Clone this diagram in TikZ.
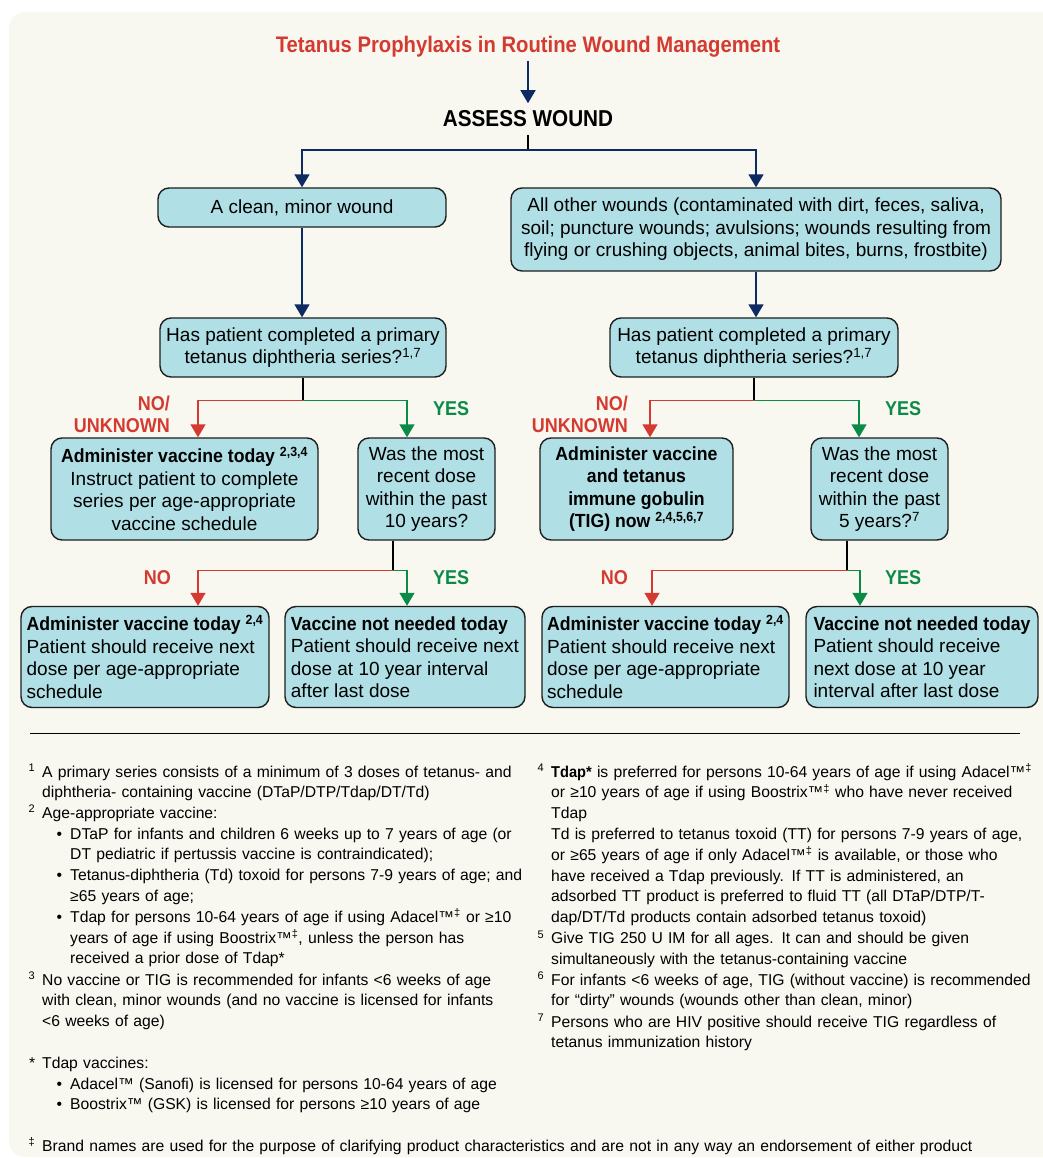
\documentclass[tikz,border=0pt]{standalone}
\usepackage{fontspec}
\setmainfont{Liberation Sans}[BoldFeatures={FakeStretch=0.93}]
\newfontfamily\headfont{Liberation Sans}[FakeStretch=0.9]
\usetikzlibrary{arrows.meta}

\definecolor{pagebg}{HTML}{F8F7F0}
\definecolor{boxfill}{HTML}{B0DFE5}
\definecolor{boxline}{HTML}{1E1E1E}
\definecolor{tetnavy}{HTML}{0D2B62}
\definecolor{noRed}{HTML}{D43A30}
\definecolor{yesGreen}{HTML}{0C8A47}

\newcommand{\bulletmark}{\leavevmode\llap{•\hspace{8pt}}}
\newcommand{\notemark}[1]{\leavevmode\llap{#1\hspace{7pt}}}

\begin{document}
\begin{tikzpicture}[x=1pt, y=-1pt,
    box/.style={draw=boxline, fill=boxfill, line width=1.4pt, rounded corners=11pt, inner sep=4pt, align=center, font=\fontsize{19}{22.5}\selectfont},
    leftbox/.style={box, align=left},
    flowline/.style={draw=tetnavy, line width=1.6pt, -{Triangle[width=15pt,length=13pt]}},
    stemline/.style={draw=black, line width=1.2pt},
    noline/.style={draw=noRed, line width=1.4pt, -{Triangle[width=15pt,length=13pt]}},
    yesline/.style={draw=yesGreen, line width=1.4pt, -{Triangle[width=15pt,length=13pt]}},
    nolabel/.style={text=noRed, inner sep=0pt, font=\headfont\bfseries\fontsize{20}{22}\selectfont},
    yeslabel/.style={text=yesGreen, inner sep=0pt, font=\headfont\bfseries\fontsize{20}{22}\selectfont},
    note/.style={anchor=base west, align=left, inner sep=0pt, text width=490pt, font=\fontsize{15.7}{20.8}\selectfont}]

    \useasboundingbox (0,0) rectangle (1043,1158);
    \fill[pagebg, rounded corners=16] (9,12) rectangle (1080,1157);

    % Title
    \node[text=noRed, inner sep=3pt, anchor=base, font=\headfont\bfseries\fontsize{22.5}{24}\selectfont] (title) at (528,53) {Tetanus Prophylaxis in Routine Wound Management};
    \node[inner sep=7.5pt, anchor=base, font=\headfont\bfseries\fontsize{23}{25}\selectfont] (assess) at (528,127) {ASSESS WOUND};
    \draw[flowline] (title.south) -- (assess.north);

    % Wound type
    \node[box, minimum width=288, minimum height=39] (clean) at (302,207.5) {A clean, minor wound};
    \node[box, minimum width=490, minimum height=83] (dirty) at (756,229.5) {All other wounds (contaminated with dirt, feces, saliva,\\soil; puncture wounds; avulsions; wounds resulting from\\flying or crushing objects, animal bites, burns, frostbite)};
    \coordinate (fork) at (528,150);
    \draw[stemline] (assess.south) -- (fork);
    \draw[flowline] (fork) -| (clean.north);
    \draw[flowline] (fork) -| (dirty.north);

    % Primary series
    \node[box, minimum width=286, minimum height=59] (primL) at (303,347.5) {Has patient completed a primary\\tetanus diphtheria series?\textsuperscript{1,7}};
    \node[box, minimum width=288, minimum height=59] (primR) at (754,347.5) {Has patient completed a primary\\tetanus diphtheria series?\textsuperscript{1,7}};
    \draw[flowline] (clean.south) -- (clean.south |- primL.north);
    \draw[flowline] (dirty.south) -- (dirty.south |- primR.north);

    % Left branch
    \node[box, minimum width=267, minimum height=102] (adminL) at (184.5,489) {\textbf{Administer vaccine today \textsuperscript{2,3,4}}\\Instruct patient to complete\\series per age-appropriate\\vaccine schedule};
    \node[box, minimum width=137, minimum height=102] (recentL) at (426.5,489) {Was the most\\recent dose\\within the past\\10 years?};
    \path (primL.south) ++(0,23) coordinate (forkL);
    \draw[stemline] (primL.south) -- (forkL);
    \draw[noline] (forkL) -| ([xshift=13.5pt]adminL.north);
    \draw[yesline] (forkL) -| ([xshift=-19.5pt]recentL.north);
    \node[nolabel, anchor=base east] (unkL1) at (170,410) {NO/};
    \node[nolabel, anchor=base east] (unkL2) at (170,432) {UNKNOWN};
    \node[yeslabel, anchor=base west] (yesL1) at (433,415) {YES};

    \node[leftbox, minimum width=248, minimum height=101] (dueL) at (145,657) {\textbf{Administer vaccine today \textsuperscript{2,4}}\\Patient should receive next\\dose per age-appropriate\\schedule};
    \node[leftbox, minimum width=240, minimum height=101] (skipL) at (405,657) {\textbf{Vaccine not needed today}\\Patient should receive next\\dose at 10 year interval\\after last dose};
    \path ([xshift=-33.5pt]recentL.south) ++(0,30) coordinate (forkL2);
    \draw[stemline] ([xshift=-33.5pt]recentL.south) -- (forkL2);
    \draw[noline] (forkL2) -| ([xshift=53pt]dueL.north);
    \draw[yesline] (forkL2) -| ([xshift=2pt]skipL.north);
    \node[nolabel, anchor=base east] (noL2) at (171,584) {NO};
    \node[yeslabel, anchor=base west] (yesL2) at (433,584) {YES};

    % Right branch
    \node[box, minimum width=193, minimum height=102, font=\bfseries\fontsize{19}{22.5}\selectfont] (tigR) at (636.5,489) {Administer vaccine\\and tetanus\\immune gobulin\\(TIG) now \textsuperscript{2,4,5,6,7}};
    \node[box, minimum width=137, minimum height=102] (recentR) at (879.5,489) {Was the most\\recent dose\\within the past\\5 years?\textsuperscript{7}};
    \path (primR.south) ++(0,23) coordinate (forkR);
    \draw[stemline] (primR.south) -- (forkR);
    \draw[noline] (forkR) -| ([xshift=13.5pt]tigR.north);
    \draw[yesline] (forkR) -| ([xshift=-20.5pt]recentR.north);
    \node[nolabel, anchor=base east] (unkR1) at (628,410) {NO/};
    \node[nolabel, anchor=base east] (unkR2) at (628,432) {UNKNOWN};
    \node[yeslabel, anchor=base west] (yesR1) at (885,415) {YES};

    \node[leftbox, minimum width=247, minimum height=101] (dueR) at (665.5,657) {\textbf{Administer vaccine today \textsuperscript{2,4}}\\Patient should receive next\\dose per age-appropriate\\schedule};
    \node[leftbox, minimum width=232, minimum height=101] (skipR) at (922,657) {\textbf{Vaccine not needed today}\\Patient should receive\\next dose at 10 year\\interval after last dose};
    \path ([xshift=-32.5pt]recentR.south) ++(0,30) coordinate (forkR2);
    \draw[stemline] ([xshift=-32.5pt]recentR.south) -- (forkR2);
    \draw[noline] (forkR2) -| ([xshift=-13.5pt]dueR.north);
    \draw[yesline] (forkR2) -| ([xshift=-62pt]skipR.north);
    \node[nolabel, anchor=base east] (noR2) at (628,584) {NO};
    \node[yeslabel, anchor=base west] (yesR2) at (885,584) {YES};

    % Footnotes
    \draw[line width=1pt] (30,733) -- (1020,733);
    \node[note] (fn1) at (42,777) {\notemark{\textsuperscript{1}}A primary series consists of a minimum of 3 doses of tetanus- and\\diphtheria- containing vaccine (DTaP/DTP/Tdap/DT/Td)};
    \node[note] (fn2) at (42,818) {\notemark{\textsuperscript{2}}Age-appropriate vaccine:};
    \node[note] (fn2list) at (70,839) {\bulletmark DTaP for infants and children 6 weeks up to 7 years of age (or\\DT pediatric if pertussis vaccine is contraindicated);\\\bulletmark Tetanus-diphtheria (Td) toxoid for persons 7-9 years of age; and\\≥65 years of age;\\\bulletmark Tdap for persons 10-64 years of age if using Adacel™\textsuperscript{‡} or ≥10\\years of age if using Boostrix™\textsuperscript{‡}, unless the person has\\received a prior dose of Tdap*};
    \node[note] (fn3) at (42,985) {\notemark{\textsuperscript{3}}No vaccine or TIG is recommended for infants <6 weeks of age\\with clean, minor wounds (and no vaccine is licensed for infants\\<6 weeks of age)};
    \node[note] (fnstar) at (42,1068) {\notemark{*}Tdap vaccines:};
    \node[note] (fnstarlist) at (70,1089) {\bulletmark Adacel™ (Sanofi) is licensed for persons 10-64 years of age\\\bulletmark Boostrix™ (GSK) is licensed for persons ≥10 years of age};
    \node[note, text width=990pt] (fndagger) at (42,1151) {\notemark{\textsuperscript{‡}}Brand names are used for the purpose of clarifying product characteristics and are not in any way an endorsement of either product};

    \node[note] (fn4) at (551,777) {\notemark{\textsuperscript{4}}\textbf{Tdap*} is preferred for persons 10-64 years of age if using Adacel™\textsuperscript{‡}\\or ≥10 years of age if using Boostrix™\textsuperscript{‡} who have never received\\Tdap\\Td is preferred to tetanus toxoid (TT) for persons 7-9 years of age,\\or ≥65 years of age if only Adacel™\textsuperscript{‡} is available, or those who\\have received a Tdap previously. If TT is administered, an\\adsorbed TT product is preferred to fluid TT (all DTaP/DTP/T-\\dap/DT/Td products contain adsorbed tetanus toxoid)};
    \node[note] (fn5) at (551,943.4) {\notemark{\textsuperscript{5}}Give TIG 250 U IM for all ages. It can and should be given\\simultaneously with the tetanus-containing vaccine};
    \node[note] (fn6) at (551,985) {\notemark{\textsuperscript{6}}For infants <6 weeks of age, TIG (without vaccine) is recommended\\for “dirty” wounds (wounds other than clean, minor)};
    \node[note] (fn7) at (551,1027) {\notemark{\textsuperscript{7}}Persons who are HIV positive should receive TIG regardless of\\tetanus immunization history};
\end{tikzpicture}
\end{document}
